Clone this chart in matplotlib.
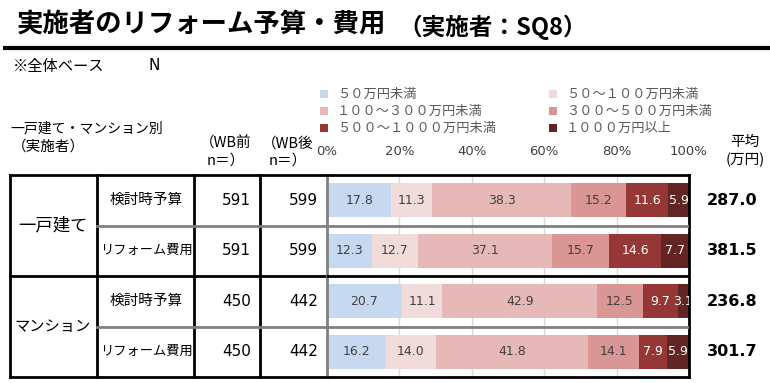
import numpy as np
import matplotlib.pyplot as plt

plt.rcParams['font.family'] = ['Noto Sans CJK JP', 'DejaVu Sans']

# データ
groups = ["一戸建て", "マンション"]
items = ["検討時予算", "リフォーム費用", "検討時予算", "リフォーム費用"]
n_before = [591, 591, 450, 450]
n_after = [599, 599, 442, 442]
categories = ["５０万円未満", "５０～１００万円未満", "１００～３００万円未満",
              "３００～５００万円未満", "５００～１０００万円未満", "１０００万円以上"]
shares = np.array([
    [17.8, 11.3, 38.3, 15.2, 11.6, 5.9],
    [12.3, 12.7, 37.1, 15.7, 14.6, 7.7],
    [20.7, 11.1, 42.9, 12.5, 9.7, 3.1],
    [16.2, 14.0, 41.8, 14.1, 7.9, 5.9],
])
averages = [287.0, 381.5, 236.8, 301.7]
ticks = [0, 20, 40, 60, 80, 100]

colors = ["#C6D9F1", "#F2DCDB", "#E6B9B8", "#D99694", "#953735", "#632523"]
label_colors = ["#404040", "#404040", "#404040", "#404040", "white", "white"]

W, H = 770, 383
fig = plt.figure(figsize=(W / 100, H / 100), dpi=100)

# 全体用（ピクセル座標）
ax0 = fig.add_axes([0, 0, 1, 1])
ax0.set_xlim(0, W)
ax0.set_ylim(H, 0)
ax0.axis("off")
ax0.patch.set_alpha(0)

# タイトル
ax0.text(17, 25, "実施者のリフォーム予算・費用", fontsize=19, fontweight="bold", va="center")
ax0.text(398, 27, "（実施者：SQ8）", fontsize=17, fontweight="bold", va="center")
ax0.plot([3, W], [47.5, 47.5], color="black", lw=3, solid_capstyle="butt")

ax0.text(13, 66, "※全体ベース", fontsize=11, va="center")
ax0.text(149, 66, "N", fontsize=11, va="center", family="DejaVu Sans")
ax0.text(10, 128, "一戸建て・マンション別", fontsize=10, va="center")
ax0.text(12, 147, "（実施者）", fontsize=10.5, va="center")
ax0.text(226, 152, "（WB前\nn＝）", fontsize=10.5, va="center", ha="center",
         multialignment="center", linespacing=1.3)
ax0.text(288, 152, "（WB後\nn＝）", fontsize=10.5, va="center", ha="center",
         multialignment="center", linespacing=1.3)
ax0.text(745, 151, "平均\n(万円)", fontsize=10.5, va="center", ha="center",
         multialignment="center", linespacing=1.3)

# 凡例
for i, (cat, col) in enumerate(zip(categories, colors)):
    cx = 324 if i % 2 == 0 else 553
    cy = [94, 111, 128][i // 2]
    ax0.scatter([cx], [cy], marker="s", s=30, color=col, edgecolors="none")
    ax0.text(cx + 13, cy, cat, fontsize=9.5, va="center", color="#595959")

# 表
top, row_h = 175, 50.5
bottom = top + 4 * row_h
for x in [10, 97, 194, 260]:
    ax0.plot([x, x], [top, bottom], color="black", lw=2)
for y in [top, top + 2 * row_h, bottom]:
    ax0.plot([10, 327], [y, y], color="black", lw=2)
for y in [top + row_h, top + 3 * row_h]:
    ax0.plot([97, 327], [y, y], color="#808080", lw=2)

ax0.text(53, top + row_h, groups[0], fontsize=12.5, ha="center", va="center")
ax0.text(53, top + 3 * row_h, groups[1], fontsize=11, ha="center", va="center")
for r in range(4):
    cy = top + (r + 0.5) * row_h
    ax0.text(146, cy, items[r], fontsize=10.5 if r % 2 == 0 else 9.5, ha="center", va="center")
    ax0.text(251, cy, str(n_before[r]), fontsize=11, ha="right", va="center", family="DejaVu Sans")
    ax0.text(318, cy, str(n_after[r]), fontsize=11, ha="right", va="center", family="DejaVu Sans")
    ax0.text(707, cy, f"{averages[r]:.1f}", fontsize=11.5, fontweight="bold",
             ha="left", va="center", family="DejaVu Sans")

# 帯グラフ
ax = fig.add_axes([327 / W, (H - bottom) / H, (689 - 327) / W, (bottom - top) / H])
ax.patch.set_alpha(0)
y = np.arange(4)
left = np.zeros(4)
for j in range(len(categories)):
    vals = shares[:, j]
    ax.barh(y, vals, left=left, height=0.67, color=colors[j], zorder=2)
    for i in range(4):
        ax.text(left[i] + vals[i] / 2, y[i], f"{vals[i]:.1f}", ha="center", va="center",
                fontsize=9, color=label_colors[j], family="DejaVu Sans", zorder=3, clip_on=True)
    left += vals

ax.set_xlim(0, 100)
ax.set_ylim(3.5, -0.5)
ax.set_yticks([])
ax.set_xticks(ticks)
ax.set_xticklabels([f"{t}%" for t in ticks], fontsize=9.5, color="#404040", family="DejaVu Sans")
ax.xaxis.tick_top()
ax.tick_params(axis="x", length=0, pad=12)
ax.grid(axis="x", color="#D9D9D9", lw=1, zorder=0)
ax.axhline(0.5, color="#808080", lw=2, zorder=4)
ax.axhline(2.5, color="#808080", lw=2, zorder=4)
ax.axhline(1.5, color="black", lw=2, zorder=4)
for side in ["top", "bottom", "right"]:
    ax.spines[side].set_color("black")
    ax.spines[side].set_linewidth(2)
ax.spines["left"].set_color("#808080")
ax.spines["left"].set_linewidth(2)

fig.savefig("out.png", dpi=100)
